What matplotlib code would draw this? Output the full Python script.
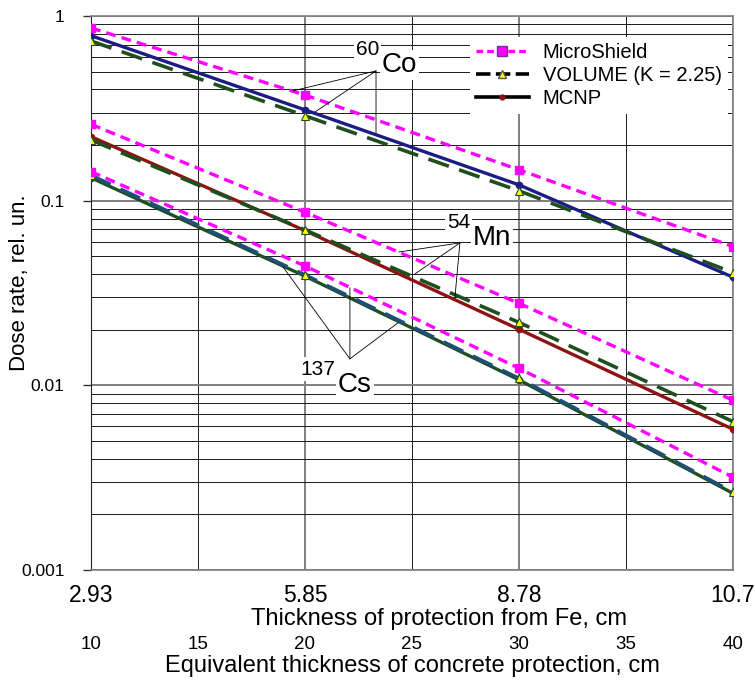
import matplotlib
matplotlib.use('Agg')
import matplotlib.pyplot as plt
from matplotlib.lines import Line2D

plt.rcParams['font.family'] = ['Liberation Sans', 'DejaVu Sans']

# equivalent concrete thickness (cm) of the computed points
concrete = [10, 20, 30, 40]
fe_ticks = [10, 20, 30, 40]
fe_labels = ['2.93', '5.85', '8.78', '10.7']
concrete_ticks = [10, 15, 20, 25, 30, 35, 40]
y_ticks = [1, 0.1, 0.01, 0.001]
y_labels = ['1', '0.1', '0.01', '0.001']

# dose rate, rel. un.
co_micro = [0.861, 0.373, 0.147, 0.0564]
co_volume = [0.732, 0.288, 0.113, 0.0408]
co_mcnp = [0.782, 0.310, 0.1217, 0.0385]
mn_micro = [0.259, 0.0865, 0.0278, 0.0083]
mn_volume = [0.213, 0.0694, 0.0219, 0.00636]
mn_mcnp = [0.222, 0.0688, 0.0201, 0.00578]
cs_micro = [0.1436, 0.0443, 0.01237, 0.00318]
cs_volume = [0.137, 0.0396, 0.0109, 0.00264]
cs_mcnp = [0.133, 0.0390, 0.0107, 0.00260]

MAGENTA = '#ff00ff'
GREEN = '#1e4f1e'
NAVY = '#1c1c86'
DARKRED = '#8e1414'
STEEL = '#1f4e79'

fig = plt.figure(figsize=(7.55, 6.84), dpi=100)
ax = fig.add_axes([0.1205, 0.1667, 0.8503, 0.81])
ax.set_yscale('log')


def micro(y):
    ax.plot(concrete, y, color=MAGENTA, lw=2.4, dashes=(3, 1.8), marker='s',
            ms=6, mfc=MAGENTA, mec=MAGENTA, zorder=5)


def volume(y, color):
    ax.plot(concrete, y, color=color, lw=2.6, dashes=(6, 3), marker='^',
            ms=5.5, mfc='#ffff00', mec=GREEN, mew=0.8, zorder=4)


def mcnp(y, color):
    ax.plot(concrete, y, color=color, lw=2.4, marker='o', ms=4.5,
            mfc=color, mec=color, zorder=3)


micro(co_micro)
mcnp(co_mcnp, NAVY)
volume(co_volume, GREEN)
micro(mn_micro)
mcnp(mn_mcnp, DARKRED)
volume(mn_volume, GREEN)
micro(cs_micro)
mcnp(cs_mcnp, GREEN)
volume(cs_volume, STEEL)

ax.set_xlim(10, 40)
ax.set_ylim(0.001, 1)

# grid
ax.set_xticks(fe_ticks, fe_labels)
ax.set_xticks([15, 25, 35], minor=True)
ax.set_yticks(y_ticks, y_labels)
ax.grid(which='major', axis='both', color='#808080', lw=1.4)
ax.grid(which='minor', axis='both', color='#1a1a1a', lw=0.7)
ax.set_axisbelow(True)
ax.tick_params(axis='x', which='both', length=0, pad=10, labelsize=16.5)
ax.tick_params(axis='y', which='major', length=6, width=1, pad=13,
               labelsize=12.5, color='#333333')
ax.tick_params(axis='y', which='minor', length=0)
ax.yaxis.set_minor_formatter(plt.NullFormatter())
for side in ['top', 'right', 'bottom']:
    ax.spines[side].set_color('#808080')
    ax.spines[side].set_linewidth(1.2)
ax.spines['left'].set_color('#222222')

ax.set_xlabel('Thickness of protection from Fe, cm', fontsize=17,
              labelpad=1, x=0.542)
ax.set_ylabel('Dose rate, rel. un.', fontsize=16)
ax.yaxis.set_label_coords(-0.095, 0.518)

sec = ax.secondary_xaxis(-0.11)
sec.set_xticks(concrete_ticks)
sec.spines['bottom'].set_visible(False)
sec.tick_params(length=0, pad=4, labelsize=13.5)
sec.set_xlabel('Equivalent thickness of concrete protection, cm',
               fontsize=17, labelpad=1)

# isotope call-outs
line_kw = dict(arrowstyle='-', lw=0.6, color='black', shrinkA=0, shrinkB=0)
callouts = [
    ((23.32, 0.504), [(19.44, 0.393), (20.47, 0.302), (23.32, 0.233)]),
    ((27.24, 0.059), [(24.39, 0.0527), (25.14, 0.0401), (27.01, 0.0301)]),
    ((22.10, 0.0139), [(18.97, 0.0438), (22.10, 0.0337), (24.35, 0.0218)]),
]
for apex, targets in callouts:
    for t in targets:
        ax.annotate('', xy=t, xytext=apex, arrowprops=line_kw, zorder=6)

box = dict(fc='white', ec='none', pad=1.5)
isotopes = [((23.60, 0.4975), '60', 'Co'),
            ((27.85, 0.0576), '54', 'Mn'),
            ((21.54, 0.00921), '137', 'Cs')]
for (x, y), mass, elem in isotopes:
    ax.text(x, y, elem, fontsize=20, ha='left', va='baseline', bbox=box,
            zorder=7)
    ax.annotate(mass, xy=(x, y), xytext=(-2, 12.5), textcoords='offset points',
                fontsize=15, ha='right', va='baseline', bbox=box, zorder=7)

handles = [
    Line2D([], [], color=MAGENTA, lw=2.4, dashes=(2, 1.2), marker='s', ms=7,
           mfc=MAGENTA, mec='#7030a0'),
    Line2D([], [], color='black', lw=2.6, dashes=(4, 1.5), marker='^', ms=6,
           mfc='#ffff00', mec='#555555'),
    Line2D([], [], color='black', lw=2.6, marker='o', ms=3.5,
           mfc='#8e1414', mec='#8e1414'),
]
leg = ax.legend(handles, ['MicroShield', 'VOLUME (K = 2.25)', 'MCNP'],
                loc='upper left', bbox_to_anchor=(0.575, 0.98), fontsize=14.5,
                frameon=True, framealpha=1, edgecolor='none', fancybox=False,
                handlelength=2.6, labelspacing=0.2, borderpad=0.3,
                handletextpad=0.7)
leg.set_zorder(8)

fig.savefig('out.png', dpi=100)
